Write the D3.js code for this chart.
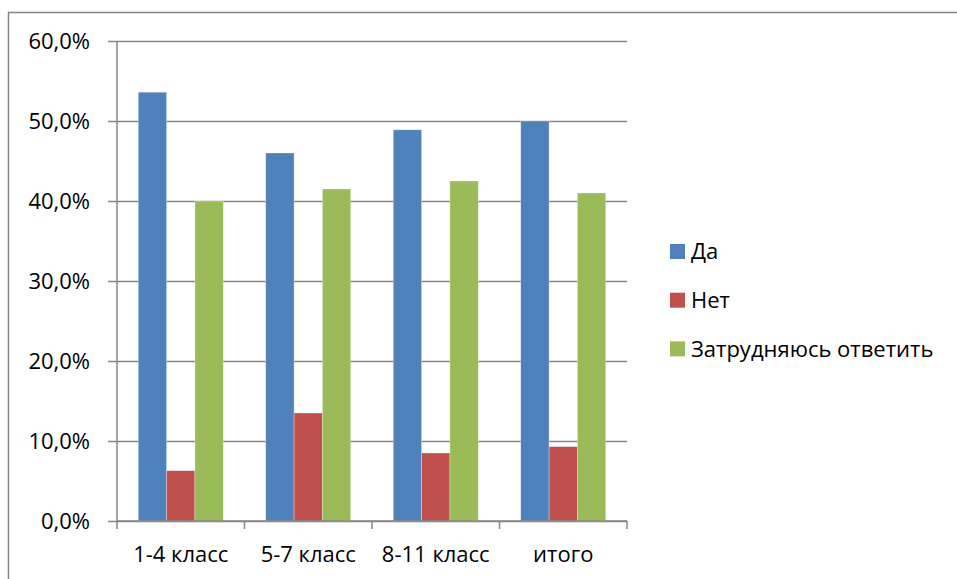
<!DOCTYPE html>
<html>
<head>
<meta charset="utf-8">
<script src="https://cdn.jsdelivr.net/npm/d3@7"></script>
<style>
  body { margin: 0; background: #fff; }
  text { font-family: "Open Sans", "Noto Sans", sans-serif; fill: #000; }
</style>
</head>
<body>
<div class="container"></div>
<script>
var width = 957,
    height = 579;

var categories = ['1-4 класс', '5-7 класс', '8-11 класс', 'итого'];
var seriesNames = ['Да', 'Нет', 'Затрудняюсь ответить'];
var da = [53.6, 46.0, 48.9, 50.0];
var net = [6.3, 13.5, 8.5, 9.3];
var zatr = [40.0, 41.5, 42.5, 41.0];
var yTicks = [0, 10, 20, 30, 40, 50, 60];
var color = ['#4F81BD', '#C0504D', '#9BBB59'];

var plot = { left: 117, right: 627, top: 41, bottom: 521 };
var fontSize = '22px';

var svg = d3.select('.container').append('svg')
    .attr('width', width)
    .attr('height', height);

// outer chart frame (right/bottom run off the picture)
svg.append('path')
    .attr('d', 'M8.5,' + height + 'V12.5H' + width)
    .attr('fill', 'none')
    .attr('stroke', '#868686')
    .attr('stroke-width', 1.5);

var x = d3.scaleBand()
    .domain(categories)
    .range([plot.left, plot.right])
    .paddingInner(0)
    .paddingOuter(0);

var x1 = d3.scaleBand()
    .domain(seriesNames)
    .range([x.bandwidth() / 6, x.bandwidth() * 5 / 6]);

var y = d3.scaleLinear()
    .domain([0, 60])
    .range([plot.bottom, plot.top]);

// gridlines + y axis
var yAxis = d3.axisLeft(y)
    .tickValues(yTicks)
    .tickSize(-(plot.right - plot.left + 9))
    .tickFormat((d) => d.toFixed(1).replace('.', ',') + '%');

var gy = svg.append('g')
    .attr('transform', 'translate(' + (plot.left - 9) + ',0)')
    .call(yAxis);
gy.select('.domain').remove();
gy.selectAll('.tick line')
    .attr('stroke', '#868686')
    .attr('stroke-width', 1.5);
gy.selectAll('.tick text')
    .attr('x', -18)
    .style('font-size', fontSize);

// bars
var rows = categories.map((c, i) => ({ cat: c, vals: [da[i], net[i], zatr[i]] }));

var groups = svg.append('g').selectAll('g')
    .data(rows)
    .enter().append('g')
    .attr('transform', (d) => 'translate(' + x(d.cat) + ',0)');

groups.selectAll('rect')
    .data((d) => d.vals.map((v, j) => ({ name: seriesNames[j], v: v, j: j })))
    .enter().append('rect')
    .attr('x', (d) => x1(d.name))
    .attr('width', x1.bandwidth())
    .attr('y', (d) => y(d.v))
    .attr('height', (d) => y(0) - y(d.v))
    .attr('fill', (d) => color[d.j])
    .attr('stroke', 'rgba(255,255,255,0.5)')
    .attr('stroke-width', 0.6);

// x axis
var xAxis = d3.axisBottom(x)
    .tickSize(0)
    .tickPadding(25);

var gx = svg.append('g')
    .attr('transform', 'translate(0,' + plot.bottom + ')')
    .call(xAxis);
gx.select('.domain')
    .attr('stroke', '#868686')
    .attr('stroke-width', 1.5)
    .attr('d', 'M' + plot.left + ',0H' + plot.right);
gx.selectAll('.tick text')
    .style('font-size', fontSize);

// category separators
svg.append('g').selectAll('line')
    .data(categories.concat(['end']))
    .enter().append('line')
    .attr('x1', (d, i) => plot.left + i * x.bandwidth())
    .attr('x2', (d, i) => plot.left + i * x.bandwidth())
    .attr('y1', plot.bottom)
    .attr('y2', plot.bottom + 8)
    .attr('stroke', '#868686')
    .attr('stroke-width', 1.5);

// vertical axis line
svg.append('line')
    .attr('x1', plot.left).attr('x2', plot.left)
    .attr('y1', plot.top).attr('y2', plot.bottom)
    .attr('stroke', '#868686')
    .attr('stroke-width', 1.5);

// legend
var legend = svg.append('g').selectAll('g')
    .data(seriesNames)
    .enter().append('g')
    .attr('transform', (d, i) => 'translate(670,' + (251.5 + i * 48.7) + ')');

legend.append('rect')
    .attr('x', 0)
    .attr('y', -7.5)
    .attr('width', 15)
    .attr('height', 15)
    .attr('fill', (d, i) => color[i]);

legend.append('text')
    .attr('x', 21)
    .attr('dy', '0.35em')
    .style('font-size', fontSize)
    .text((d) => d);
</script>
</body>
</html>
